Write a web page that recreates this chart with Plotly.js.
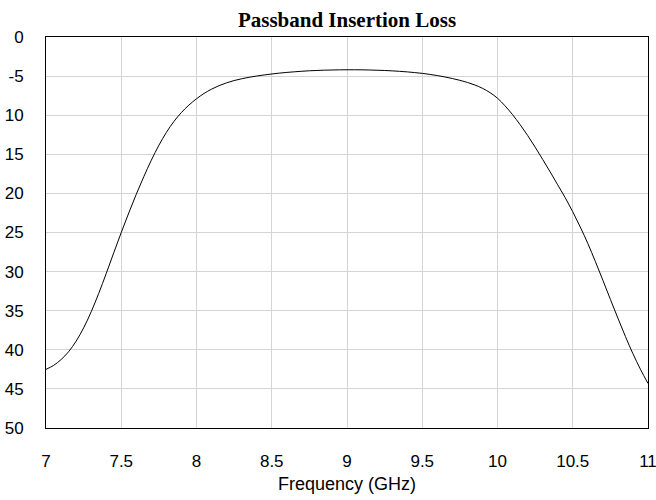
<!DOCTYPE html>
<html>
<head>
<meta charset="utf-8">
<script src="https://cdn.plot.ly/plotly-3.0.1.min.js"></script>
<style>html,body{margin:0;padding:0;background:#fff;}#chart{width:656px;height:500px;}</style>
</head>
<body>
<div id="chart"></div>
<script>
var freqGHz = [7.00,7.05,7.10,7.15,7.20,7.25,7.30,7.35,7.40,7.45,7.50,7.55,7.60,7.65,7.70,7.75,7.80,7.85,7.90,7.95,
               8.00,8.05,8.10,8.15,8.20,8.25,8.30,8.35,8.40,8.45,8.50,8.55,8.60,8.65,8.70,8.75,8.80,8.85,8.90,8.95,
               9.00,9.05,9.10,9.15,9.20,9.25,9.30,9.35,9.40,9.45,9.50,9.55,9.60,9.65,9.70,9.75,9.80,9.85,9.90,9.95,
               10.00,10.05,10.10,10.15,10.20,10.25,10.30,10.35,10.40,10.45,10.50,10.55,10.60,10.65,10.70,10.75,10.80,10.85,10.90,10.95,11.00];
var lossDb = [42.5,42.0,41.25,40.25,38.9,37.2,35.15,32.8,30.25,27.6,25.0,22.5,20.1,17.85,15.75,13.85,12.2,10.8,9.65,8.7,
              7.9,7.22,6.67,6.22,5.86,5.57,5.34,5.15,4.99,4.85,4.73,4.62,4.53,4.45,4.38,4.32,4.28,4.24,4.22,4.20,
              4.19,4.19,4.20,4.22,4.25,4.28,4.33,4.39,4.46,4.55,4.65,4.78,4.93,5.11,5.31,5.54,5.81,6.14,6.56,7.11,
              7.83,8.8,9.93,11.2,12.58,14.08,15.65,17.25,18.9,20.55,22.35,24.3,26.4,28.7,31.1,33.55,35.95,38.3,40.5,42.5,44.3];
var yTickVals = [0,5,10,15,20,25,30,35,40,45,50];
var yTickText = ["0","-5","10","15","20","25","30","35","40","45","50"];
var xTickVals = [7,7.5,8,8.5,9,9.5,10,10.5,11];
var xTickText = ["7","7.5","8","8.5","9","9.5","10","10.5","11"];

var trace = {
  x: freqGHz, y: lossDb, type: 'scatter', mode: 'lines',
  line: {color: '#000', width: 1, shape: 'spline', smoothing: 1},
  hoverinfo: 'x+y', cliponaxis: true
};
var layout = {
  width: 656, height: 500,
  margin: {l: 46, r: 8, t: 37, b: 72},
  paper_bgcolor: '#fff', plot_bgcolor: '#fff',
  showlegend: false,
  font: {family: 'Arial, "Liberation Sans", sans-serif', size: 17, color: '#000'},
  title: {text: '<b>Passband Insertion Loss</b>', font: {family: '"Times New Roman", "Liberation Serif", serif', size: 21, color: '#000'},
          x: 0.5, xref: 'paper', xanchor: 'center', y: 1, yref: 'paper', yanchor: 'bottom', pad: {b: 10}},
  xaxis: {
    range: [7, 11], tickmode: 'array', tickvals: xTickVals, ticktext: xTickText,
    showgrid: true, gridcolor: '#d4d4d4', gridwidth: 1, zeroline: false,
    showline: true, linecolor: '#000', linewidth: 1, mirror: true,
    ticks: '', ticklabelstandoff: 18, ticklabeloverflow: 'allow',
    title: {text: 'Frequency (GHz)', font: {size: 18}, standoff: 6}
  },
  yaxis: {
    range: [50, 0], tickmode: 'array', tickvals: yTickVals, ticktext: yTickText,
    showgrid: true, gridcolor: '#d4d4d4', gridwidth: 1, zeroline: false,
    showline: true, linecolor: '#000', linewidth: 1, mirror: true,
    ticks: '', ticklabelstandoff: 18, ticklabeloverflow: 'allow'
  }
};
Plotly.newPlot('chart', [trace], layout, {displayModeBar: false, staticPlot: true});
</script>
</body>
</html>
